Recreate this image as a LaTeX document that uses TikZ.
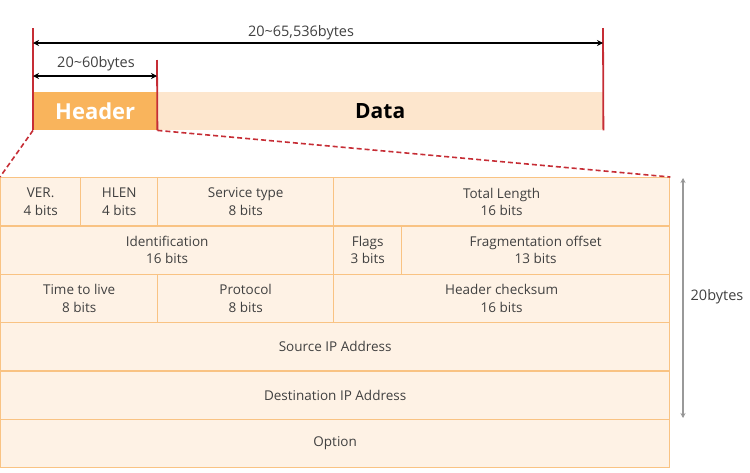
\documentclass[tikz,border=0pt]{standalone}
\usepackage{fontspec}
\setmainfont{Open Sans}
\usetikzlibrary{arrows.meta}
\definecolor{hdr}{HTML}{F9B45C}
\definecolor{dat}{HTML}{FDE6CD}
\definecolor{cellfill}{HTML}{FEF2E5}
\definecolor{gridc}{HTML}{F9C383}
\definecolor{redl}{HTML}{C62D35}
\definecolor{txt}{HTML}{404040}
\tikzset{
  cell/.style={draw=gridc, fill=cellfill, line width=1.3pt, anchor=north west, inner sep=0pt,
    align=center, text=txt, font=\fontsize{13.5}{17.5}\selectfont, minimum height=48.33pt},
  redline/.style={draw=redl, line width=1.8pt},
  dim/.style={draw=black, line width=1.6pt, {Stealth[length=6pt,width=6pt]}-{Stealth[length=6pt,width=6pt]}},
  dimlabel/.style={text=txt, font=\fontsize{14.5}{16}\selectfont, inner sep=0pt},
  dashred/.style={draw=redl, line width=1.6pt, dash pattern=on 5pt off 3pt},
}
\begin{document}
\begin{tikzpicture}[x=1pt,y=-1pt]
\useasboundingbox (0,0) rectangle (750,472);
% datagram bar
\node[fill=hdr, anchor=north west, minimum width=124pt, minimum height=38pt, inner sep=0pt,
  text=white, font=\fontsize{22}{23}\selectfont\bfseries] (header) at (33,92) {Header};
\node[fill=dat, anchor=north west, minimum width=446pt, minimum height=38pt, inner sep=0pt,
  text=black, font=\fontsize{21}{22}\selectfont\bfseries] (data) at (157,92) {Data};
% marker lines
\coordinate (lt) at (33,28);
\coordinate (mt) at (157,60);
\coordinate (rt) at (603,28);
\draw[redline] (lt) -- (header.south west);
\draw[redline] (mt) -- (header.south east);
\draw[redline] (rt) -- (data.south east);
% dimension arrows
\coordinate (a1) at (33,43);
\coordinate (a2) at (603,43);
\draw[dim] (a1) -- (a2);
\node[dimlabel] (l1) at (301,33) {20\textasciitilde65,536bytes};
\coordinate (b1) at (33,76);
\coordinate (b2) at (157,76);
\draw[dim] (b1) -- (b2);
\node[dimlabel] (l2) at (96,64) {20\textasciitilde60bytes};
% table
\node[cell, minimum width=80pt] (ver) at (0,177) {VER.\\4 bits};
\node[cell, minimum width=77pt] (hlen) at (80,177) {HLEN\\4 bits};
\node[cell, minimum width=176pt] (svc) at (157,177) {Service type\\8 bits};
\node[cell, minimum width=336pt] (tlen) at (333,177) {Total Length\\16 bits};
\node[cell, minimum width=333pt] (idf) at (0,225.33) {Identification\\16 bits};
\node[cell, minimum width=68pt] (flags) at (333,225.33) {Flags\\3 bits};
\node[cell, minimum width=268pt] (frag) at (401,225.33) {Fragmentation offset\\13 bits};
\node[cell, minimum width=157pt] (ttl) at (0,273.67) {Time to live\\8 bits};
\node[cell, minimum width=176pt] (proto) at (157,273.67) {Protocol\\8 bits};
\node[cell, minimum width=336pt] (chk) at (333,273.67) {Header checksum\\16 bits};
\node[cell, minimum width=669pt] (src) at (0,322) {Source IP Address};
\node[cell, minimum width=669pt] (dst) at (0,370.33) {Destination IP Address};
\node[cell, minimum width=669pt] (opt) at (0,418.67) {Option};
% zoom lines
\draw[dashred] (header.south west) -- (ver.north west);
\draw[dashred] (header.south east) -- (tlen.north east);
% 20 bytes arrow
\coordinate (g1) at (683,178);
\coordinate (g2) at (683,418);
\draw[draw=black!40, line width=2pt, {Stealth[length=5pt,width=5pt,fill=black!80]}-{Stealth[length=5pt,width=5pt,fill=black!80]}] (g1) -- (g2);
\node[dimlabel] (l3) at (717,297) {20bytes};
\end{tikzpicture}
\end{document}
